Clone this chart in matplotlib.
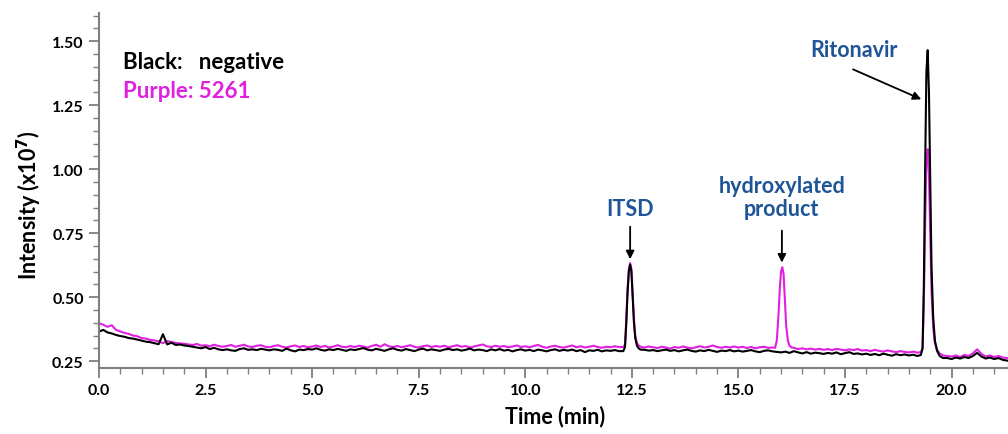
import numpy as np
import matplotlib.pyplot as plt
from matplotlib.ticker import MultipleLocator, FormatStrFormatter

plt.rcParams['font.family'] = ['Lato', 'DejaVu Sans']
plt.rcParams['font.weight'] = 'bold'

# baseline trace sampled every 0.1 min (intensity in units of 1e7)
time_base = np.round(np.arange(0, 21.45, 0.1), 2)

black_base = [
    0.365, 0.372, 0.362, 0.358, 0.352, 0.348, 0.345, 0.340, 0.338, 0.334,
    0.330, 0.326, 0.324, 0.320, 0.316, 0.355, 0.315, 0.322, 0.313, 0.315,
    0.311, 0.309, 0.306, 0.303, 0.300, 0.305, 0.297, 0.302, 0.296, 0.293,
    0.296, 0.292, 0.290, 0.297, 0.300, 0.294, 0.296, 0.293, 0.298, 0.295,
    0.292, 0.296, 0.294, 0.290, 0.299, 0.292, 0.288, 0.295, 0.293, 0.297,
    0.295, 0.300, 0.294, 0.291, 0.296, 0.293, 0.298, 0.294, 0.290, 0.296,
    0.293, 0.297, 0.301, 0.295, 0.292, 0.298, 0.294, 0.290, 0.296, 0.300,
    0.294, 0.291, 0.297, 0.293, 0.289, 0.295, 0.299, 0.292, 0.296, 0.293,
    0.290, 0.295, 0.298, 0.293, 0.296, 0.291, 0.294, 0.299, 0.292, 0.295,
    0.293, 0.289, 0.296, 0.292, 0.297, 0.291, 0.294, 0.288, 0.293, 0.296,
    0.291, 0.294, 0.289, 0.295, 0.292, 0.288, 0.293, 0.296, 0.290, 0.294,
    0.291, 0.295, 0.289, 0.293, 0.285, 0.292, 0.290, 0.294, 0.288, 0.292,
    0.290, 0.293, 0.289, 0.291, 0.300, 0.300, 0.300, 0.298, 0.294, 0.291,
    0.293, 0.289, 0.292, 0.295, 0.290, 0.293, 0.288, 0.292, 0.295, 0.290,
    0.287, 0.292, 0.289, 0.294, 0.290, 0.286, 0.291, 0.289, 0.293, 0.288,
    0.291, 0.287, 0.290, 0.293, 0.288, 0.285, 0.290, 0.292, 0.288, 0.286,
    0.284, 0.287, 0.282, 0.289, 0.284, 0.280, 0.285, 0.279, 0.283, 0.281,
    0.278, 0.282, 0.279, 0.284, 0.277, 0.281, 0.285, 0.278, 0.280, 0.276,
    0.279, 0.274, 0.278, 0.273, 0.279, 0.275, 0.271, 0.277, 0.273, 0.276,
    0.272, 0.275, 0.270, 0.272, 0.300, 0.300, 0.300, 0.300, 0.268, 0.262,
    0.258, 0.264, 0.260, 0.266, 0.262, 0.270, 0.282, 0.268, 0.260, 0.264,
    0.258, 0.262, 0.255, 0.252, 0.250,
]

purple_base = [
    0.398, 0.392, 0.384, 0.390, 0.372, 0.366, 0.360, 0.356, 0.350, 0.347,
    0.340, 0.338, 0.333, 0.331, 0.327, 0.320, 0.328, 0.325, 0.321, 0.319,
    0.318, 0.315, 0.313, 0.317, 0.310, 0.312, 0.308, 0.314, 0.309, 0.306,
    0.309, 0.313, 0.306, 0.310, 0.314, 0.307, 0.305, 0.310, 0.312, 0.306,
    0.304, 0.309, 0.312, 0.306, 0.303, 0.308, 0.311, 0.305, 0.309, 0.304,
    0.307, 0.311, 0.305, 0.309, 0.303, 0.307, 0.312, 0.306, 0.304, 0.309,
    0.305, 0.310, 0.307, 0.303, 0.309, 0.314, 0.306, 0.316, 0.308, 0.305,
    0.309, 0.304, 0.308, 0.312, 0.306, 0.303, 0.308, 0.311, 0.305, 0.309,
    0.306, 0.310, 0.304, 0.308, 0.312, 0.306, 0.309, 0.303, 0.307, 0.311,
    0.315, 0.308, 0.305, 0.310, 0.306, 0.309, 0.304, 0.307, 0.311, 0.305,
    0.308, 0.304, 0.309, 0.313, 0.306, 0.302, 0.307, 0.310, 0.305, 0.303,
    0.307, 0.311, 0.304, 0.308, 0.303, 0.306, 0.310, 0.305, 0.302, 0.306,
    0.304, 0.308, 0.305, 0.306, 0.300, 0.300, 0.300, 0.306, 0.303, 0.307,
    0.304, 0.301, 0.306, 0.303, 0.299, 0.305, 0.302, 0.307, 0.303, 0.300,
    0.304, 0.308, 0.303, 0.306, 0.311, 0.305, 0.302, 0.306, 0.303, 0.307,
    0.303, 0.306, 0.301, 0.305, 0.300, 0.304, 0.306, 0.302, 0.303, 0.305,
    0.300, 0.300, 0.298, 0.302, 0.297, 0.300, 0.296, 0.299, 0.295, 0.298,
    0.294, 0.297, 0.293, 0.298, 0.295, 0.292, 0.296, 0.293, 0.297, 0.291,
    0.293, 0.289, 0.294, 0.290, 0.287, 0.292, 0.288, 0.285, 0.289, 0.286,
    0.284, 0.287, 0.283, 0.285, 0.300, 0.300, 0.300, 0.300, 0.276, 0.270,
    0.268, 0.272, 0.266, 0.274, 0.270, 0.280, 0.296, 0.278, 0.268, 0.272,
    0.266, 0.270, 0.264, 0.262, 0.260,
]

# peaks sampled more finely
itsd_t = [12.30, 12.34, 12.37, 12.40, 12.43, 12.46, 12.49, 12.52, 12.55, 12.58, 12.62, 12.66, 12.70]
itsd_black = [0.289, 0.305, 0.40, 0.52, 0.60, 0.627, 0.60, 0.50, 0.40, 0.34, 0.31, 0.30, 0.295]
itsd_purple = [0.305, 0.315, 0.41, 0.53, 0.61, 0.633, 0.61, 0.51, 0.41, 0.35, 0.32, 0.312, 0.306]

hydroxy_t = [15.86, 15.90, 15.94, 15.97, 16.00, 16.03, 16.06, 16.09, 16.12, 16.16, 16.20, 16.25]
hydroxy_purple = [0.302, 0.33, 0.43, 0.53, 0.60, 0.617, 0.59, 0.49, 0.39, 0.33, 0.31, 0.303]

rito_t = [19.28, 19.32, 19.35, 19.38, 19.41, 19.44, 19.47, 19.50, 19.53, 19.57, 19.61, 19.66, 19.72, 19.80]
rito_black = [0.274, 0.30, 0.55, 1.00, 1.38, 1.465, 1.30, 0.95, 0.62, 0.42, 0.33, 0.29, 0.27, 0.262]
rito_purple = [0.285, 0.30, 0.47, 0.78, 1.02, 1.078, 0.98, 0.74, 0.52, 0.38, 0.32, 0.295, 0.28, 0.272]


def merge(base_t, base_y, segments):
    t = np.asarray(base_t, float)
    y = np.asarray(base_y, float)
    keep = np.ones(len(t), bool)
    for st, sy in segments:
        keep &= ~((t >= st[0]) & (t <= st[-1]))
    t_all = np.concatenate([t[keep]] + [np.asarray(st) for st, sy in segments])
    y_all = np.concatenate([y[keep]] + [np.asarray(sy) for st, sy in segments])
    order = np.argsort(t_all)
    return t_all[order], y_all[order]


tb, yb = merge(time_base, black_base, [(itsd_t, itsd_black), (rito_t, rito_black)])
tp, yp = merge(time_base, purple_base, [(itsd_t, itsd_purple), (hydroxy_t, hydroxy_purple),
                                         (rito_t, rito_purple)])

magenta = '#e020e0'
label_blue = '#1f5597'
grey = '#7f7f7f'

fig = plt.figure(figsize=(10.08, 4.35), dpi=100)
ax = fig.add_axes([0.0982, 0.1517, 0.905, 0.816])

ax.plot(tp, yp, color=magenta, lw=1.5)
ax.plot(tb, yb, color='black', lw=1.5)

ax.set_xlim(0, 21.4)
ax.set_ylim(0.223, 1.61)

for side in ('top', 'right'):
    ax.spines[side].set_visible(False)
for side in ('left', 'bottom'):
    ax.spines[side].set_color(grey)
    ax.spines[side].set_linewidth(1.5)

ax.xaxis.set_major_locator(MultipleLocator(2.5))
ax.xaxis.set_minor_locator(MultipleLocator(0.5))
ax.yaxis.set_major_locator(MultipleLocator(0.25))
ax.yaxis.set_minor_locator(MultipleLocator(0.05))
ax.xaxis.set_major_formatter(FormatStrFormatter('%.1f'))
ax.yaxis.set_major_formatter(FormatStrFormatter('%.2f'))
ax.tick_params(which='major', direction='out', length=7, width=1.3, color=grey,
               labelsize=11.5, pad=4)
ax.tick_params(which='minor', direction='out', length=4, width=1.0, color=grey)

ax.set_xlabel('Time (min)', fontsize=15.5, fontweight='bold', labelpad=5)
ax.set_ylabel('Intensity (x10$^\\mathbf{7}$)', fontsize=15.5, fontweight='bold')
ax.yaxis.set_label_coords(-0.060, 0.462)

ax.text(0.57, 1.422, 'Black:   negative', fontsize=16, fontweight='bold',
        color='black', va='center', ha='left')
ax.text(0.57, 1.309, 'Purple: 5261', fontsize=16, fontweight='bold',
        color=magenta, va='center', ha='left')

arrow = dict(arrowstyle='-|>', color='black', lw=1.3, mutation_scale=12,
             shrinkA=0, shrinkB=0)
ax.annotate('', xy=(12.46, 0.648), xytext=(12.46, 0.775), arrowprops=arrow)
ax.text(12.46, 0.845, 'ITSD', fontsize=15.5, fontweight='bold', color=label_blue,
        ha='center', va='center')
ax.annotate('', xy=(16.02, 0.635), xytext=(16.02, 0.76), arrowprops=arrow)
ax.text(16.02, 0.89, 'hydroxylated\nproduct', fontsize=15.5, fontweight='bold',
        color=label_blue, ha='center', va='center', linespacing=1.1)
ax.annotate('', xy=(19.29, 1.273), xytext=(17.69, 1.39), arrowprops=arrow)
ax.text(17.71, 1.469, 'Ritonavir', fontsize=15.5, fontweight='bold',
        color=label_blue, ha='center', va='center')

fig.savefig('out.png', dpi=100)
